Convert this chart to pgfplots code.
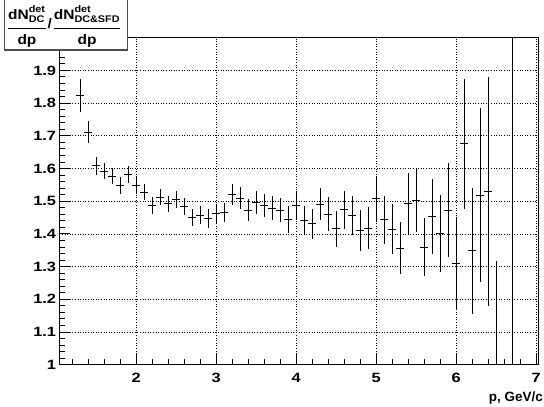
\documentclass[border=0pt]{standalone}
\usepackage{pgfplots}
\pgfplotsset{compat=1.18}
\usepackage{pgfplotstable}
\usepackage{amsmath}
\usepackage{graphicx}
\usepackage{fontspec}
\setmainfont{Liberation Sans}

\pgfplotstableread{
x y ex ey
1.3 1.824 0.05 0.050
1.4 1.711 0.05 0.033
1.5 1.608 0.05 0.027
1.6 1.592 0.05 0.025
1.7 1.577 0.05 0.025
1.8 1.548 0.05 0.025
1.9 1.582 0.05 0.025
2.0 1.548 0.05 0.025
2.1 1.528 0.05 0.025
2.2 1.486 0.05 0.026
2.3 1.512 0.05 0.025
2.4 1.492 0.05 0.025
2.5 1.505 0.05 0.025
2.6 1.484 0.05 0.026
2.7 1.450 0.05 0.027
2.8 1.457 0.05 0.028
2.9 1.447 0.05 0.028
3.0 1.462 0.05 0.030
3.1 1.466 0.05 0.030
3.2 1.520 0.05 0.032
3.3 1.510 0.05 0.033
3.4 1.472 0.05 0.034
3.5 1.496 0.05 0.035
3.6 1.486 0.05 0.035
3.7 1.479 0.05 0.037
3.8 1.473 0.05 0.038
3.9 1.444 0.05 0.040
4.0 1.487 0.05 0.044
4.1 1.442 0.05 0.044
4.2 1.431 0.05 0.046
4.3 1.491 0.05 0.050
4.4 1.460 0.05 0.052
4.5 1.416 0.05 0.055
4.6 1.474 0.05 0.058
4.7 1.456 0.05 0.059
4.8 1.410 0.05 0.062
4.9 1.418 0.05 0.063
5.0 1.508 0.05 0.070
5.1 1.443 0.05 0.073
5.2 1.414 0.05 0.076
5.3 1.356 0.05 0.079
5.4 1.493 0.05 0.094
5.5 1.502 0.05 0.097
5.6 1.360 0.05 0.089
5.7 1.454 0.05 0.115
5.8 1.400 0.05 0.118
5.9 1.473 0.05 0.145
6.0 1.311 0.05 0.140
6.1 1.676 0.05 0.199
6.2 1.348 0.05 0.192
6.3 1.518 0.05 0.266
6.4 1.530 0.05 0.350
6.5 0.900 0.05 0.416
6.7 0.600 0.05 1.600
}\datatable

\newcommand{\tb}[1]{\text{\bfseries #1}}

\begin{document}
\begin{tikzpicture}
\useasboundingbox (0,0) rectangle (544bp,-407bp);
\begin{axis}[
  at={(59.3bp,-364.7bp)}, anchor=south west,
  scale only axis, width=479.2bp, height=327bp,
  xmin=1.04, xmax=7.03, ymin=1, ymax=2,
  xtick={2,3,4,5,6,7},
  ytick={1,1.1,1.2,1.3,1.4,1.5,1.6,1.7,1.8,1.9,2},
  minor xtick={1.2,1.4,1.6,1.8,2.2,2.4,2.6,2.8,3.2,3.4,3.6,3.8,4.2,4.4,4.6,4.8,5.2,5.4,5.6,5.8,6.2,6.4,6.6,6.8},
  minor ytick={1.02,1.04,1.06,1.08,1.12,1.14,1.16,1.18,1.22,1.24,1.26,1.28,1.32,1.34,1.36,1.38,1.42,1.44,1.46,1.48,1.52,1.54,1.56,1.58,1.62,1.64,1.66,1.68,1.72,1.74,1.76,1.78,1.82,1.84,1.86,1.88,1.92,1.94,1.96,1.98},
  xtick pos=bottom, ytick pos=left,
  tick align=inside,
  major tick length=11bp, minor tick length=5.5bp,
  major tick style={line width=0.9bp, black},
  minor tick style={line width=0.9bp, black},
  axis line style={line width=1bp, black},
  grid=major,
  major grid style={black, line width=0.6bp, dash pattern=on 1bp off 1.6bp},
  /pgf/number format/assume math mode=true,
  ticklabel style={font=\bfseries\fontsize{13.5}{15}\selectfont, inner sep=0pt},
  yticklabel={\scalebox{1.22}[1]{\pgfmathprintnumber{\tick}}},
  xticklabel={\scalebox{1.22}[1]{\pgfmathprintnumber{\tick}}},
  yticklabel style={anchor=east, xshift=-3bp},
  xticklabel style={anchor=north, yshift=-8bp},
]
\addplot[draw=none, mark=none,
  error bars/.cd, x dir=both, x explicit, y dir=both, y explicit,
  error mark=none, error bar style={draw=black, line width=0.8bp}]
  table[x=x, y=y, x error=ex, y error=ey] {\datatable};
\end{axis}
\node[anchor=base east, inner sep=0pt, font=\bfseries\fontsize{13.5}{15}\selectfont] at (543bp,-401.7bp) {p, GeV/c};
\filldraw[fill=white, draw=black!70, line width=1.3bp] (4.5bp,3bp) rectangle (127.5bp,-50bp);
\node[inner sep=0pt] at (64.3bp,-26.5bp) {\resizebox*{116bp}{41.5bp}{%
  $\genfrac{}{}{1.2pt}{0}{\tb{dN}^{\tb{det}}_{\tb{DC}}}{\tb{dp}}$\raisebox{0.25em}{\bfseries /}$\genfrac{}{}{1.2pt}{0}{\tb{dN}^{\tb{det}}_{\tb{DC\&SFD}}}{\tb{dp}}$}};
\end{tikzpicture}
\end{document}
